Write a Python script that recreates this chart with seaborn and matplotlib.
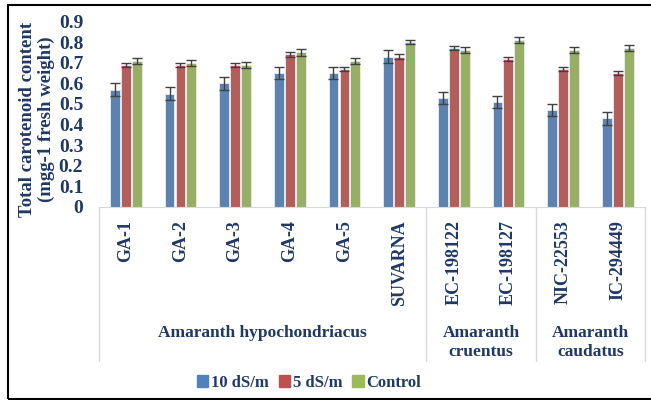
import numpy as np
import pandas as pd
import matplotlib
matplotlib.use("Agg")
import matplotlib.pyplot as plt
import seaborn as sns
from matplotlib.lines import Line2D
from matplotlib.patches import Rectangle

# ---- data ----
genotypes = ["GA-1", "GA-2", "GA-3", "GA-4", "GA-5", "SUVARNA",
             "EC-198122", "EC-198127", "NIC-22553", "IC-294449"]
treatments = ["10 dS/m", "5 dS/m", "Control"]

val_10 = [0.57, 0.55, 0.60, 0.65, 0.65, 0.73, 0.53, 0.51, 0.47, 0.43]
val_5 = [0.69, 0.69, 0.69, 0.74, 0.67, 0.73, 0.77, 0.72, 0.67, 0.65]
val_ctrl = [0.71, 0.70, 0.69, 0.75, 0.71, 0.80, 0.76, 0.81, 0.76, 0.77]

err_10 = [0.03, 0.03, 0.03, 0.03, 0.03, 0.03, 0.03, 0.03, 0.03, 0.03]
err_5 = [0.01, 0.01, 0.01, 0.01, 0.01, 0.01, 0.01, 0.01, 0.01, 0.01]
err_ctrl = [0.015, 0.015, 0.015, 0.015, 0.015, 0.01, 0.015, 0.015, 0.015, 0.015]

species = ["Amaranth hypochondriacus", "Amaranth\ncruentus", "Amaranth\ncaudatus"]
species_span = [(0, 5), (6, 7), (8, 9)]

COLORS = {"10 dS/m": "#4F81BD", "5 dS/m": "#C0504D", "Control": "#9BBB59"}
NAVY = "#1F3864"

rows = []
for t, vals, errs in zip(treatments, [val_10, val_5, val_ctrl], [err_10, err_5, err_ctrl]):
    for g, v, e in zip(genotypes, vals, errs):
        rows.append({"Genotype": g, "Treatment": t, "Value": v, "Err": e})
df = pd.DataFrame(rows)

sns.set_style("white")
plt.rcParams["font.family"] = ["Liberation Serif", "DejaVu Serif"]
plt.rcParams["font.weight"] = "bold"

fig = plt.figure(figsize=(6.51, 4.0), dpi=100)
ax = fig.add_axes([98.5 / 651, 1 - 207 / 400, (645 - 98.5) / 651, (207 - 21.5) / 400])

sns.barplot(data=df, x="Genotype", y="Value", hue="Treatment", order=genotypes,
            hue_order=treatments, palette=COLORS, width=0.6, gap=0.1,
            errorbar=None, edgecolor="#e8eef5", linewidth=0.6, legend=False, ax=ax)

# error bars centred on each bar
for cont, t in zip(ax.containers, treatments):
    sub = df[df["Treatment"] == t].set_index("Genotype").loc[genotypes]
    xs = [p.get_x() + p.get_width() / 2 for p in cont.patches]
    ax.errorbar(xs, sub["Value"], yerr=sub["Err"], fmt="none", ecolor="#404040",
                elinewidth=1.0, capsize=3.5, capthick=1.0)

ax.set_ylim(0, 0.9)
ax.set_xlim(-0.5, 9.5)
ax.set_yticks(np.arange(0, 0.91, 0.1))
ax.set_yticklabels(["0"] + [f"{v:.1f}" for v in np.arange(0.1, 0.91, 0.1)])
ax.tick_params(axis="y", length=0, labelsize=14, labelcolor=NAVY, pad=11)
ax.tick_params(axis="x", length=0, labelbottom=False)
for s in ["top", "right", "left"]:
    ax.spines[s].set_visible(False)
ax.spines["bottom"].set_color("#d9d9d9")
ax.set_xlabel("")
ax.set_ylabel("")
fig.text(37 / 651, 1 - 119 / 400, "Total carotenoid content\n(mgg-1 fresh weight)",
         rotation=90, ha="center", va="center", fontsize=13.5, color=NAVY,
         fontweight="bold", linespacing=1.08)

# genotype labels, rotated
trans = ax.get_xaxis_transform()
for i, g in enumerate(genotypes):
    ax.text(i, -0.07, g, rotation=90, ha="center", va="top", transform=trans,
            fontsize=13, color=NAVY, fontweight="bold")

# separators of the category table
for xb in [-0.5, 5.5, 7.5, 9.5]:
    ax.add_line(Line2D([xb, xb], [0, -0.83], transform=trans, color="#d9d9d9",
                       linewidth=1.0, clip_on=False))

for name, (a, b) in zip(species, species_span):
    ax.text((a + b) / 2, -0.635, name, ha="center", va="top", transform=trans,
            fontsize=12.5, color=NAVY, fontweight="bold", linespacing=1.25)

handles = [Rectangle((0, 0), 1, 1, color=COLORS[t]) for t in treatments]
fig.legend(handles, treatments, loc="center", bbox_to_anchor=(309 / 651, 1 - 383 / 400),
           ncol=3, frameon=False, handlelength=0.7, handleheight=0.7, handletextpad=0.15,
           columnspacing=0.6, prop={"size": 12, "weight": "bold"}, labelcolor=NAVY)

# outer frame
fig.add_artist(Rectangle((8 / 651, 1 / 400), 1.0, 394 / 400, transform=fig.transFigure,
                         fill=False, edgecolor="black", linewidth=1.5))

fig.savefig("out.png", dpi=100)
